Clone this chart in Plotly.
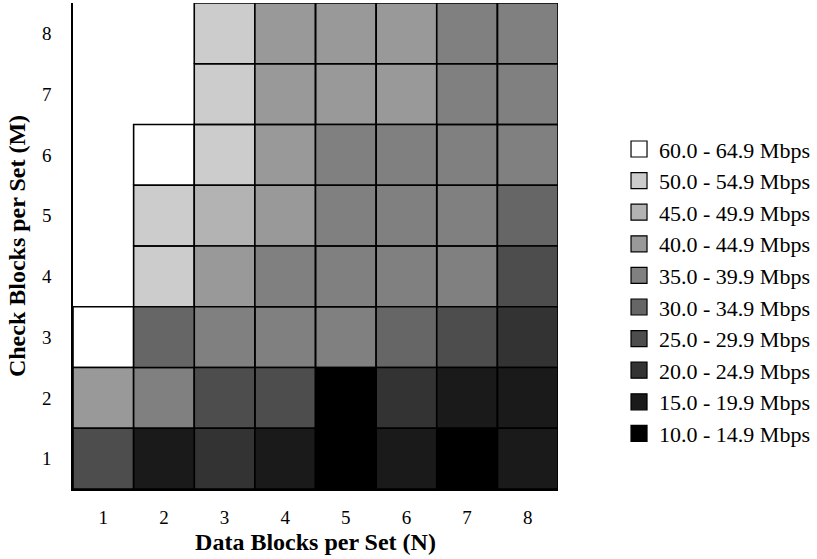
import plotly.graph_objects as go

# Data: N (data blocks per set), M (check blocks per set)
N_values = [1, 2, 3, 4, 5, 6, 7, 8]
M_values = [1, 2, 3, 4, 5, 6, 7, 8]

# Throughput bin (lower bound, Mbps) for each cell; rows are M = 1..8, columns N = 1..8
throughput_M1 = [25, 15, 20, 15, 10, 15, 10, 15]
throughput_M2 = [40, 35, 25, 25, 10, 20, 15, 15]
throughput_M3 = [60, 30, 35, 35, 35, 30, 25, 20]
throughput_M4 = [None, 50, 40, 35, 35, 35, 35, 25]
throughput_M5 = [None, 50, 45, 40, 35, 35, 35, 30]
throughput_M6 = [None, 60, 50, 40, 35, 35, 35, 35]
throughput_M7 = [None, None, 50, 40, 40, 40, 35, 35]
throughput_M8 = [None, None, 50, 40, 40, 40, 35, 35]
throughput = [throughput_M1, throughput_M2, throughput_M3, throughput_M4,
              throughput_M5, throughput_M6, throughput_M7, throughput_M8]

bin_lows = [60, 50, 45, 40, 35, 30, 25, 20, 15, 10]
bin_labels = ["60.0 - 64.9 Mbps", "50.0 - 54.9 Mbps", "45.0 - 49.9 Mbps",
              "40.0 - 44.9 Mbps", "35.0 - 39.9 Mbps", "30.0 - 34.9 Mbps",
              "25.0 - 29.9 Mbps", "20.0 - 24.9 Mbps", "15.0 - 19.9 Mbps",
              "10.0 - 14.9 Mbps"]
bin_colors = ["#ffffff", "#cccccc", "#b3b3b3", "#999999", "#808080",
              "#666666", "#4d4d4d", "#333333", "#1a1a1a", "#000000"]

FONT = "Liberation Serif"
fig = go.Figure()

# Cells: one filled trace per bin, each cell a closed square
for low, color in zip(bin_lows, bin_colors):
    xs, ys = [], []
    for mi, m in enumerate(M_values):
        for ni, n in enumerate(N_values):
            if throughput[mi][ni] == low:
                xs += [n - 0.5, n + 0.5, n + 0.5, n - 0.5, n - 0.5, None]
                ys += [m - 0.5, m - 0.5, m + 0.5, m + 0.5, m - 0.5, None]
    if xs:
        fig.add_trace(go.Scatter(
            x=xs, y=ys, mode="lines", fill="toself", fillcolor=color,
            line=dict(color="black", width=1.6), showlegend=False,
            hoverinfo="skip"))

# Legend entries
for i, (label, color) in enumerate(zip(bin_labels, bin_colors)):
    fig.add_trace(go.Scatter(
        x=[None], y=[None], mode="markers", name=label, legendgroup=f"g{i}",
        marker=dict(symbol="square", size=18, color=color,
                    line=dict(color="black", width=1.2))))

fig.update_layout(
    width=817, height=559,
    margin=dict(l=73, r=258, t=3, b=70),
    paper_bgcolor="white", plot_bgcolor="white",
    font=dict(family=FONT, size=20, color="black"),
    legend=dict(x=1.1235, xanchor="left", y=0.407, yanchor="middle",
                font=dict(family=FONT, size=22), tracegroupgap=0,
                itemwidth=30, bgcolor="rgba(0,0,0,0)"),
    xaxis=dict(range=[0.5, 8.5], tickvals=N_values, ticktext=[str(v) for v in N_values],
               showgrid=False, zeroline=False, showline=True, linecolor="black", linewidth=1.5,
               ticks="outside", ticklen=10, tickcolor="rgba(0,0,0,0)", automargin=False,
               title=dict(text="<b>Data Blocks per Set (N)</b>", font=dict(family=FONT, size=24), standoff=7),
               tickfont=dict(family=FONT, size=19)),
    yaxis=dict(range=[0.5, 8.5], tickvals=M_values, ticktext=[str(v) for v in M_values],
               showgrid=False, zeroline=False, showline=True, linecolor="black", linewidth=1.5,
               ticks="outside", ticklen=16, tickcolor="rgba(0,0,0,0)", automargin=False,
               title=dict(text="<b>Check Blocks per Set (M)</b>", font=dict(family=FONT, size=24), standoff=10),
               tickfont=dict(family=FONT, size=19)),
)

fig.write_html("out.html", config={"displayModeBar": False},
               post_script="document.body.style.margin='0px';")
